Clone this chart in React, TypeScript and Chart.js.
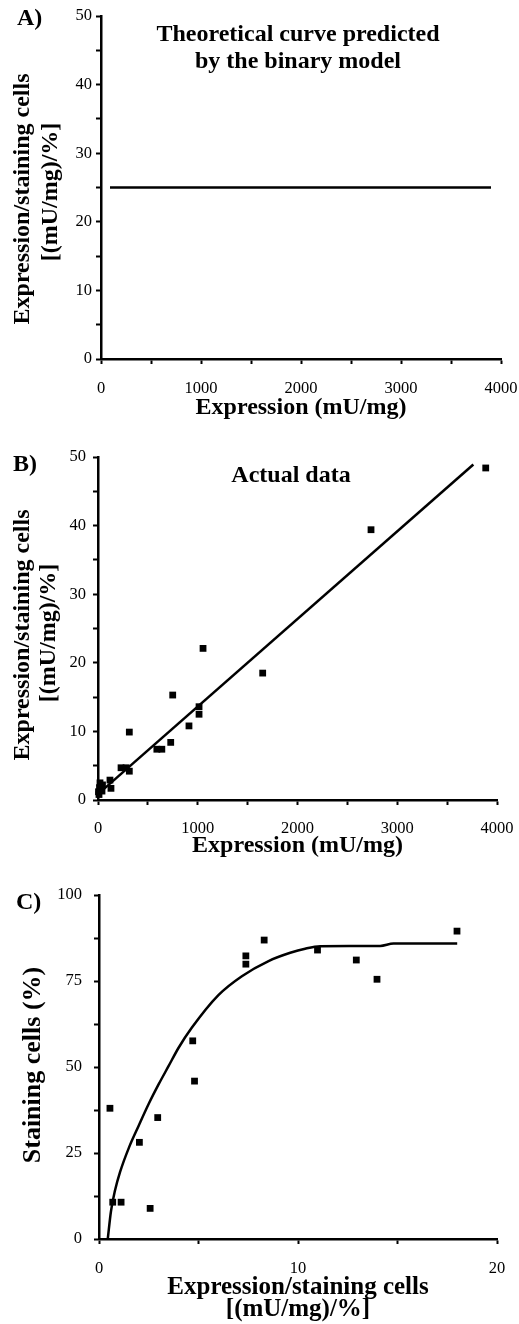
import React, { useEffect, useRef } from 'react';
import { Chart, registerables } from 'chart.js';

Chart.register(...registerables);

const SERIF = '"Liberation Serif", "Times New Roman", Times, serif';

// ---------- Panel A: theoretical curve ----------
const theoryX = [90, 3900];
const theoryY = [25, 25];

// ---------- Panel B: actual data ----------
const actualX = [3887, 2737, 1053, 1651, 749, 1013, 1013, 912, 729, 590, 640, 314, 314, 231, 281, 120, 130, 5, 10, 15, 20, 40, 45];
const actualY = [48.4, 39.4, 22.1, 18.5, 15.3, 13.6, 12.5, 10.8, 8.4, 7.4, 7.4, 9.9, 4.2, 4.7, 4.7, 2.9, 1.7, 1.2, 0.8, 1.8, 2.5, 1.3, 2.2];
const fitBX = [0, 3763];
const fitBY = [0.85, 48.9];

// ---------- Panel C: staining cells ----------
const stainX = [0.55, 0.69, 1.11, 2.03, 2.57, 2.95, 4.71, 4.8, 7.38, 7.38, 8.3, 10.98, 12.93, 13.97, 17.99];
const stainY = [38.0, 10.7, 10.7, 28.1, 8.9, 35.3, 57.6, 45.9, 82.3, 79.9, 86.9, 84.0, 81.1, 75.5, 89.5];
const curveCX = [0.44, 0.6, 0.8, 1.06, 1.5, 2.0, 2.5, 3.0, 3.5, 4.0, 4.66, 6.0, 7.18, 8.52, 9.61, 10.36, 11.12, 14.13, 14.8, 18.0];
const curveCY = [0, 8, 14, 19.5, 26.5, 33, 39.3, 45, 50.3, 55.6, 61.4, 70.9, 76.4, 80.8, 83.2, 84.4, 85.1, 85.2, 85.9, 85.9];

// tick labels
const tickLabelsExpr = [0, 1000, 2000, 3000, 4000];
const tickLabelsRatioY = [0, 10, 20, 30, 40, 50];
const tickLabelsStainY = [0, 25, 50, 75, 100];
const tickLabelsStainX = [0, 10, 20];

const pts = (xs: number[], ys: number[]) => xs.map((x, i) => ({ x, y: ys[i] }));

const textPlugin = {
  id: 'panelText',
  afterDraw(chart: any, _args: any, opts: any) {
    const ctx = chart.ctx;
    for (const t of (opts && opts.items) || []) {
      ctx.save();
      ctx.font = t.font;
      ctx.fillStyle = '#000';
      ctx.textAlign = t.align || 'center';
      ctx.textBaseline = 'middle';
      ctx.translate(t.x, t.y);
      if (t.rotate) ctx.rotate(t.rotate);
      ctx.fillText(t.text, 0, 0);
      ctx.restore();
    }
  },
};

function axis(o: {
  horizontal: boolean;
  min: number;
  max: number;
  step: number;
  labels: number[];
  size: number;
  pad: number;
  title?: string | string[];
  titleFont?: number;
  titleLH?: number;
}) {
  return {
    type: 'linear',
    min: o.min,
    max: o.max,
    afterFit: (s: any) => {
      if (o.horizontal) s.height = o.size;
      else s.width = o.size;
      s.paddingLeft = 0;
      s.paddingRight = 0;
      s.paddingTop = 0;
      s.paddingBottom = 0;
    },
    border: { display: true, color: '#000', width: 2.5 },
    grid: {
      drawOnChartArea: false,
      drawTicks: true,
      tickLength: 5,
      tickWidth: 2,
      tickColor: '#000',
    },
    ticks: {
      stepSize: o.step,
      autoSkip: false,
      maxRotation: 0,
      padding: o.pad,
      color: '#000',
      font: { family: SERIF, size: 16.5 },
      callback: (v: any) => (o.labels.includes(Number(v)) ? String(v) : ''),
    },
    title: o.title
      ? {
          display: true,
          text: o.title,
          color: '#000',
          padding: 0,
          font: { family: SERIF, size: o.titleFont || 24, weight: 'bold', lineHeight: o.titleLH || 1.2 },
        }
      : { display: false },
  };
}

const pointDs = (data: any[]) => ({
  type: 'scatter',
  data,
  pointStyle: 'rect',
  pointRadius: 4.8,
  pointHoverRadius: 4.8,
  backgroundColor: '#000',
  borderColor: '#000',
  borderWidth: 0,
  clip: false,
  showLine: false,
});

const lineDs = (data: any[], smooth: boolean) => ({
  type: 'scatter',
  data,
  showLine: true,
  pointRadius: 0,
  borderColor: '#000',
  borderWidth: 2.5,
  backgroundColor: '#000',
  fill: false,
  cubicInterpolationMode: smooth ? 'monotone' : 'default',
  clip: false,
});

function makeConfig(panel: 'A' | 'B' | 'C'): any {
  const base = {
    animation: false,
    responsive: false,
    devicePixelRatio: 1,
    events: [],
  };
  if (panel === 'A') {
    return {
      type: 'scatter',
      data: { datasets: [lineDs(pts(theoryX, theoryY), false)] },
      plugins: [textPlugin],
      options: {
        ...base,
        layout: { padding: { left: 0, right: 18, top: 16, bottom: 0 } },
        scales: {
          x: axis({ horizontal: true, min: 0, max: 4000, step: 500, labels: tickLabelsExpr, size: 63, pad: 15, title: 'Expression (mU/mg)' }),
          y: axis({ horizontal: false, min: 0, max: 50, step: 5, labels: tickLabelsRatioY, size: 101, pad: 4 }),
        },
        plugins: {
          legend: { display: false },
          tooltip: { enabled: false },
          panelText: {
            items: [
              { text: 'A)', x: 17, y: 19, align: 'left', font: `bold 24px ${SERIF}` },
              { text: 'Theoretical curve predicted', x: 298, y: 35, font: `bold 24px ${SERIF}` },
              { text: 'by the binary model', x: 298, y: 62, font: `bold 24px ${SERIF}` },
              { text: 'Expression/staining cells', x: 23, y: 199, rotate: -Math.PI / 2, font: `bold 24px ${SERIF}` },
              { text: '[(mU/mg)/%]', x: 51, y: 192, rotate: -Math.PI / 2, font: `bold 24px ${SERIF}` },
            ],
          },
        },
      },
    };
  }
  if (panel === 'B') {
    return {
      type: 'scatter',
      data: { datasets: [lineDs(pts(fitBX, fitBY), false), pointDs(pts(actualX, actualY))] },
      plugins: [textPlugin],
      options: {
        ...base,
        layout: { padding: { left: 0, right: 22, top: 37, bottom: 10 } },
        scales: {
          x: axis({ horizontal: true, min: 0, max: 4000, step: 500, labels: tickLabelsExpr, size: 60, pad: 14, title: 'Expression (mU/mg)' }),
          y: axis({ horizontal: false, min: 0, max: 50, step: 5, labels: tickLabelsRatioY, size: 98, pad: 7 }),
        },
        plugins: {
          legend: { display: false },
          tooltip: { enabled: false },
          panelText: {
            items: [
              { text: 'B)', x: 13, y: 45, align: 'left', font: `bold 24px ${SERIF}` },
              { text: 'Actual data', x: 291, y: 56, font: `bold 24px ${SERIF}` },
              { text: 'Expression/staining cells', x: 23, y: 215, rotate: -Math.PI / 2, font: `bold 24px ${SERIF}` },
              { text: '[(mU/mg)/%]', x: 49, y: 213, rotate: -Math.PI / 2, font: `bold 24px ${SERIF}` },
            ],
          },
        },
      },
    };
  }
  return {
    type: 'scatter',
    data: { datasets: [lineDs(pts(curveCX, curveCY), true), pointDs(pts(stainX, stainY))] },
    plugins: [textPlugin],
    options: {
      ...base,
      layout: { padding: { left: 0, right: 22, top: 25, bottom: 3 } },
      scales: {
        x: axis({
          horizontal: true, min: 0, max: 20, step: 5, labels: tickLabelsStainX, size: 82, pad: 15,
          title: ['Expression/staining cells', '[(mU/mg)/%]'], titleFont: 25, titleLH: 0.88,
        }),
        y: axis({ horizontal: false, min: 0, max: 100, step: 12.5, labels: tickLabelsStainY, size: 99, pad: 12 }),
      },
      plugins: {
        legend: { display: false },
        tooltip: { enabled: false },
        panelText: {
          items: [
            { text: 'C)', x: 16, y: 33, align: 'left', font: `bold 24px ${SERIF}` },
            { text: 'Staining cells (%)', x: 33, y: 195, rotate: -Math.PI / 2, font: `bold 26px ${SERIF}` },
          ],
        },
      },
    },
  };
}

function Panel({ panel, top, height }: { panel: 'A' | 'B' | 'C'; top: number; height: number }) {
  const ref = useRef<HTMLCanvasElement | null>(null);
  useEffect(() => {
    if (!ref.current) return;
    const chart = new Chart(ref.current, makeConfig(panel));
    return () => chart.destroy();
  }, [panel]);
  return (
    <canvas
      ref={ref}
      width={519}
      height={height}
      style={{ position: 'absolute', left: 0, top, width: 519, height, display: 'block' }}
    />
  );
}

export default function App() {
  return (
    <div style={{ position: 'absolute', left: 0, top: 0, width: 519, height: 1324, background: '#fff' }}>
      <Panel panel="A" top={0} height={422} />
      <Panel panel="B" top={420} height={450} />
      <Panel panel="C" top={870} height={454} />
    </div>
  );
}
